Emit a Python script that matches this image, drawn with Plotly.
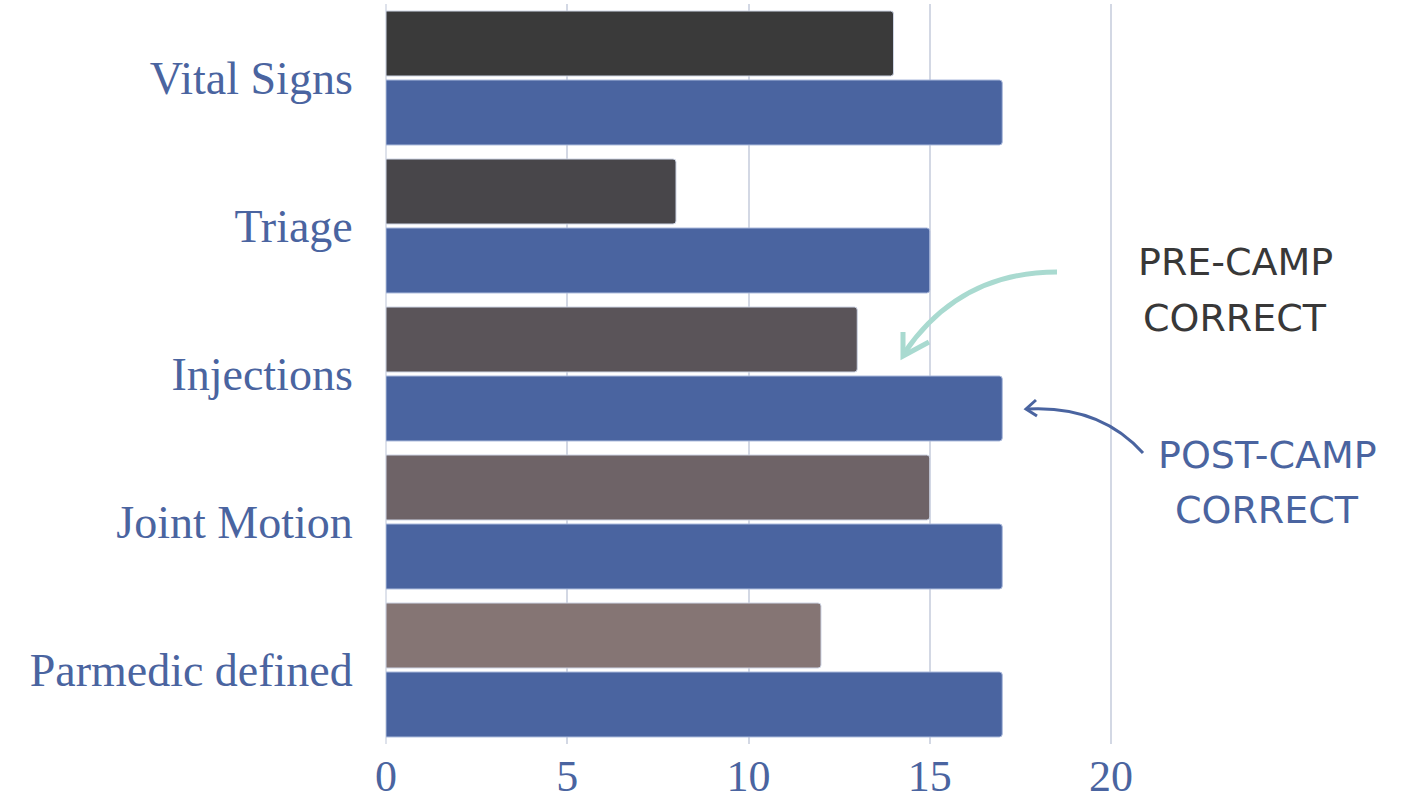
import plotly.graph_objects as go

categories = ["Vital Signs", "Triage", "Injections", "Joint Motion", "Parmedic defined"]
pre_values = [14, 8, 13, 15, 12]
post_values = [17, 15, 17, 17, 17]
pre_colors = ["#3a3a3a", "#48464a", "#5a5459", "#6e6367", "#857574"]
post_color = "#4a64a0"
x_ticks = [0, 5, 10, 15, 20]
pre_label = ["PRE-CAMP", "CORRECT"]
post_label = ["POST-CAMP", "CORRECT"]

W, H = 1419, 805
L, T, B = 386, 4, 744
R = W
PX_PER_UNIT = (1111 - 386) / 20.0
x_max = (R - L) / PX_PER_UNIT


def px(x):
    return (x - L) / (R - L)


def py(y):
    return (B - y) / (B - T)


fig = go.Figure()
fig.add_trace(go.Bar(
    y=categories, x=pre_values, orientation="h", name="Pre-camp correct",
    marker=dict(color=pre_colors, line=dict(color="rgba(205,212,228,1)", width=1),
                cornerradius=3),
    hoverinfo="x+y",
))
fig.add_trace(go.Bar(
    y=categories, x=post_values, orientation="h", name="Post-camp correct",
    marker=dict(color=post_color, line=dict(color="rgba(170,185,220,1)", width=1),
                cornerradius=3),
    hoverinfo="x+y",
))

serif = "Liberation Serif, DejaVu Serif, serif"
label_font = dict(family=serif, size=46, color="#4a64a0")
xtick_font = dict(family=serif, size=44, color="#4a64a0")

fig.update_layout(
    width=W, height=H,
    margin=dict(l=L, r=W - R, t=T, b=H - B, pad=0),
    paper_bgcolor="white", plot_bgcolor="white",
    barmode="group", bargap=0.068, bargroupgap=0.058,
    showlegend=False,
    xaxis=dict(range=[0, x_max], tickvals=x_ticks, showgrid=True,
               gridcolor="#d3d8e4", gridwidth=1.5, zeroline=False,
               showline=False, tickfont=xtick_font, ticks="",
               ticklabelstandoff=2, automargin=False),
    yaxis=dict(autorange="reversed", tickfont=label_font, showgrid=False,
               zeroline=False, showline=False, ticks="outside", ticklen=23,
               tickcolor="rgba(0,0,0,0)", automargin=False),
)
fig.add_shape(type="line", xref="paper", yref="paper", x0=0, x1=0, y0=0, y1=1,
              line=dict(color="#d3d8e4", width=1.5), layer="below")

sans = "DejaVu Sans, Open Sans, sans-serif"
for txt, yy in zip(pre_label, [262, 318]):
    fig.add_annotation(xref="paper", yref="paper", x=px(1235), y=py(yy),
                       xanchor="center", yanchor="middle", text=txt, showarrow=False,
                       font=dict(family=sans, size=38, color="#383838"))
for txt, yy in zip(post_label, [455, 510]):
    fig.add_annotation(xref="paper", yref="paper", x=px(1267), y=py(yy),
                       xanchor="center", yanchor="middle", text=txt, showarrow=False,
                       font=dict(family=sans, size=38, color="#4a64a0"))

# teal curved arrow (pre-camp)
teal = "#a9dad0"
p = (f"M {px(1057)} {py(272)} Q {px(960)} {py(272)} {px(905)} {py(352)}")
fig.add_shape(type="path", xref="paper", yref="paper", path=p,
              line=dict(color=teal, width=5))
p = (f"M {px(903)} {py(332)} L {px(903)} {py(356)} L {px(929)} {py(342)}")
fig.add_shape(type="path", xref="paper", yref="paper", path=p,
              line=dict(color=teal, width=5))

# blue curved arrow (post-camp)
blue = "#4a64a0"
p = (f"M {px(1143)} {py(453)} Q {px(1100)} {py(405)} {px(1027)} {py(409)}")
fig.add_shape(type="path", xref="paper", yref="paper", path=p,
              line=dict(color=blue, width=3))
p = (f"M {px(1036)} {py(400)} L {px(1026)} {py(409)} L {px(1037)} {py(416)}")
fig.add_shape(type="path", xref="paper", yref="paper", path=p,
              line=dict(color=blue, width=3))

fig.write_html("out.html")
